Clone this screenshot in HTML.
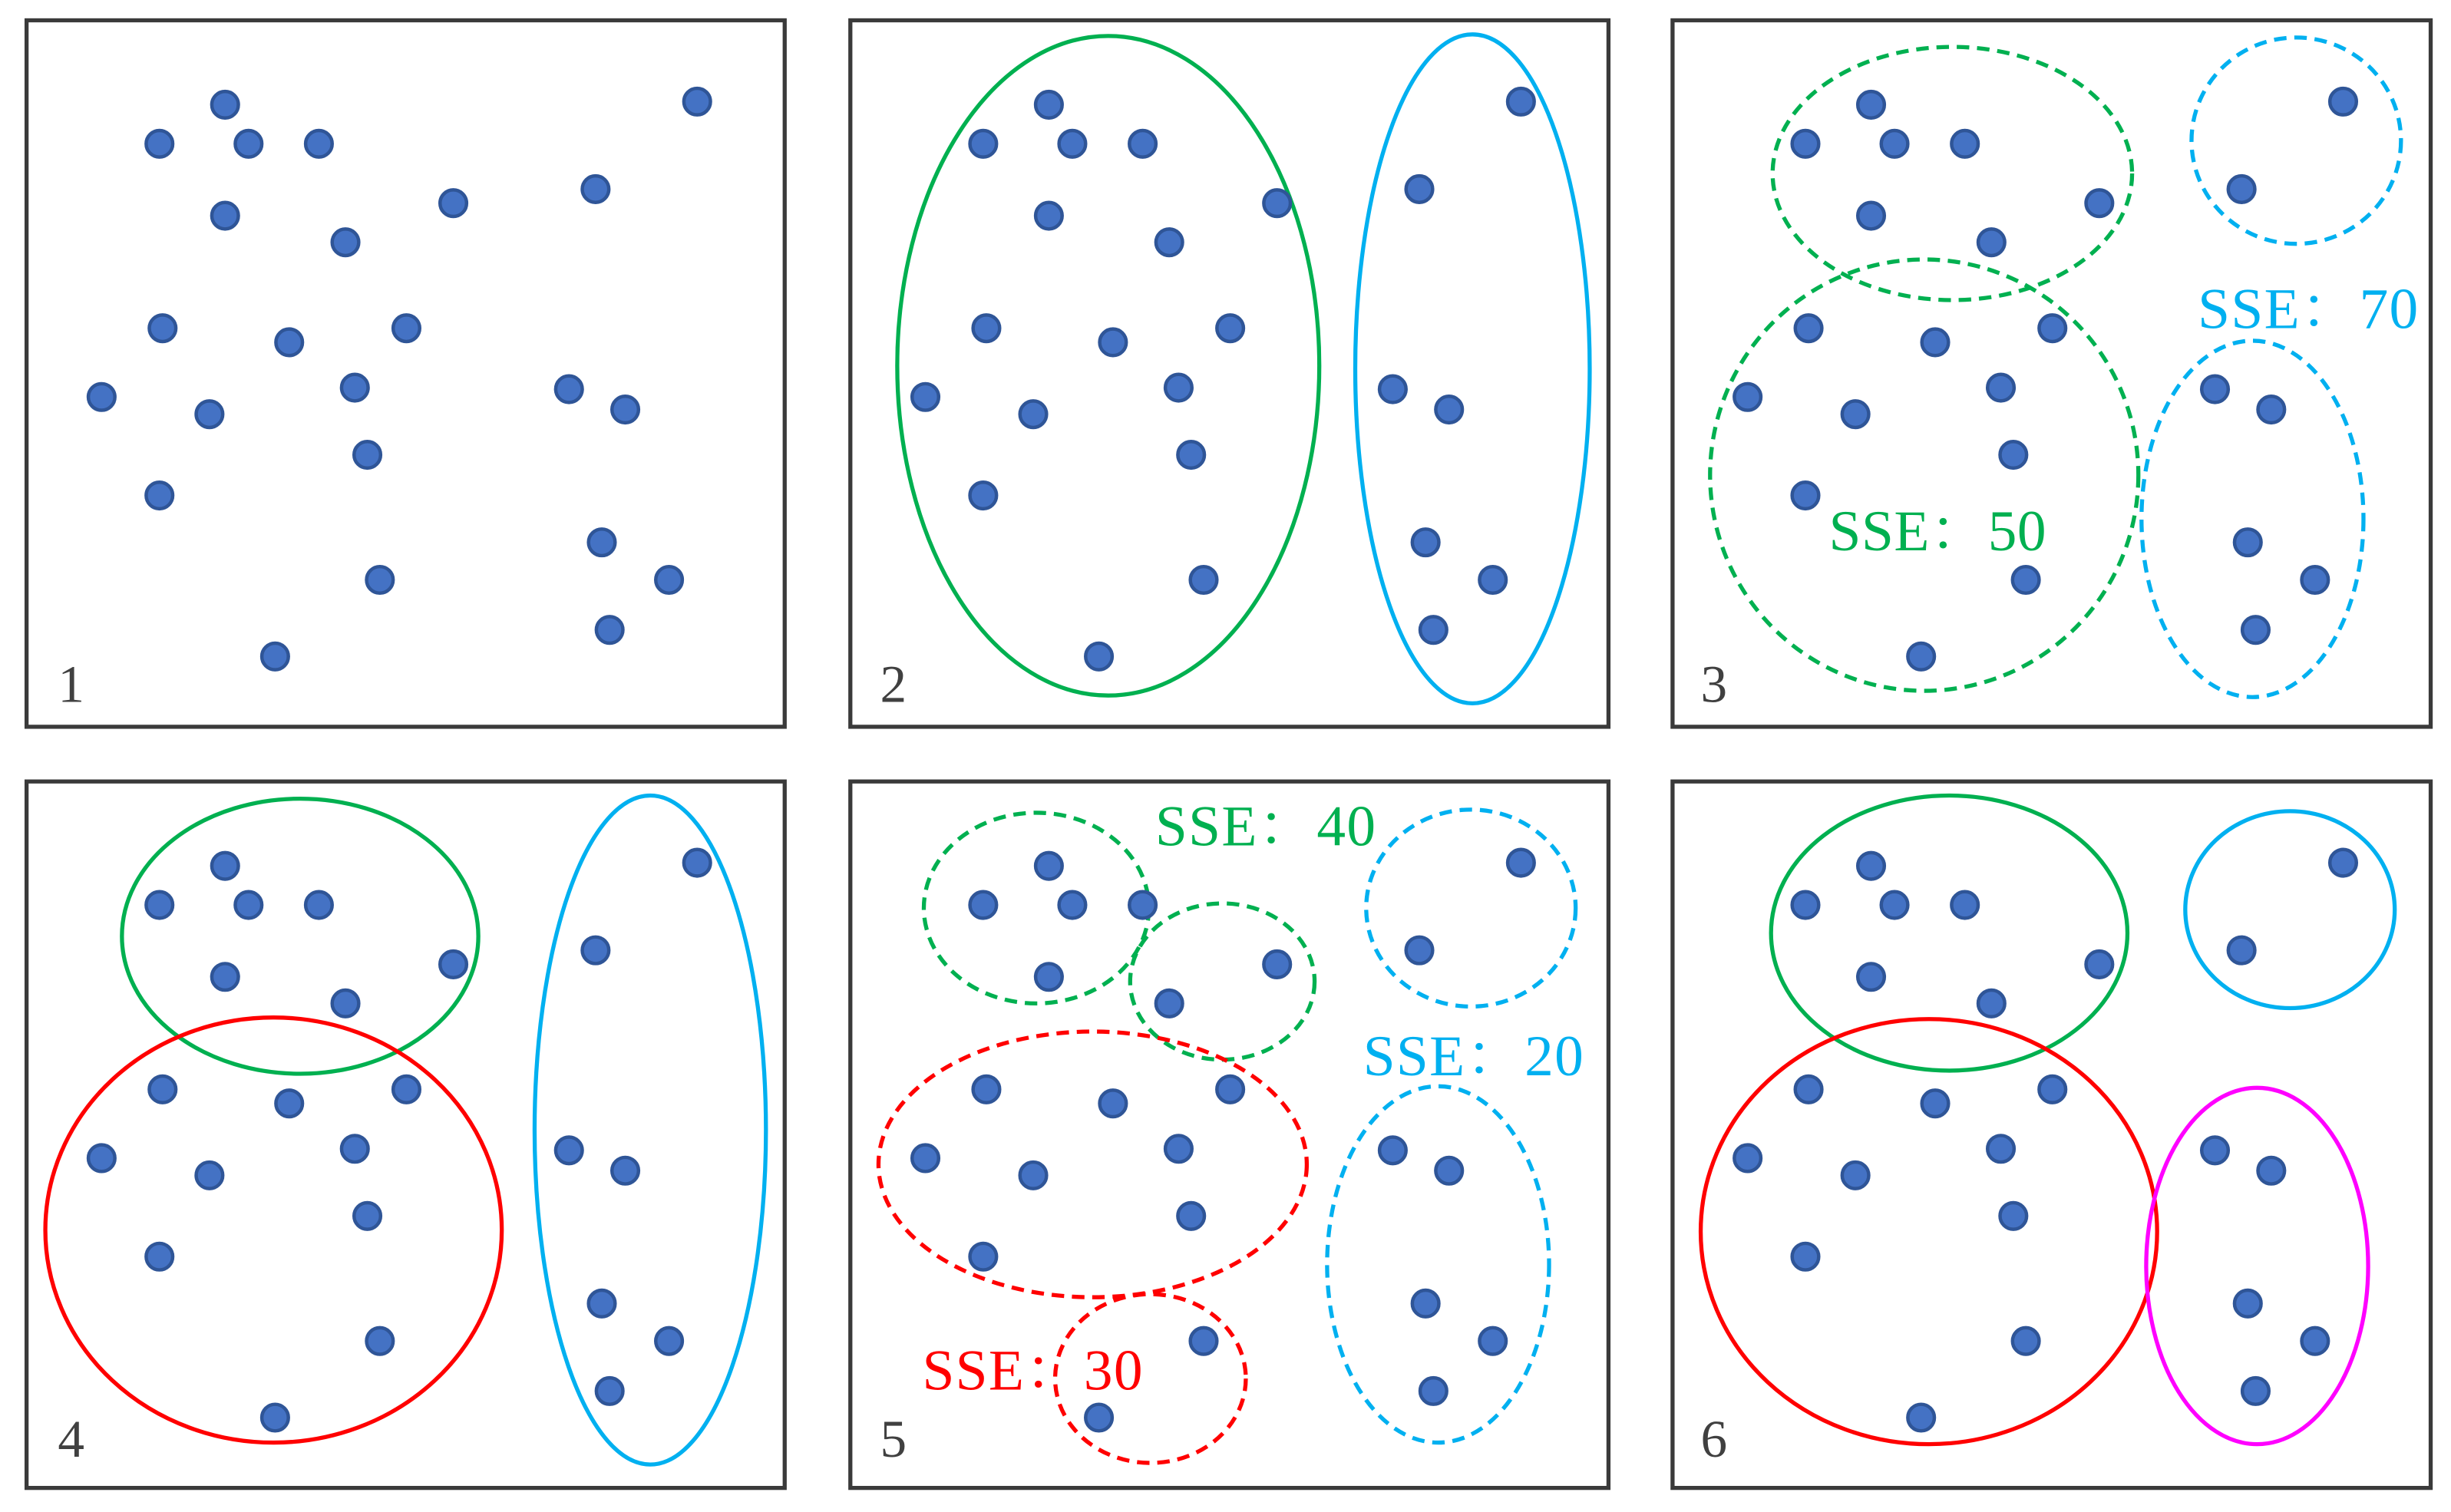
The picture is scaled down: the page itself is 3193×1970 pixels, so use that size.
<!DOCTYPE html>
<html><head><meta charset="utf-8"><style>html,body{margin:0;padding:0;background:#fff}svg{display:block}</style></head>
<body>
<svg width="3193" height="1970" viewBox="0 0 1568 967.4" preserveAspectRatio="none" xmlns="http://www.w3.org/2000/svg">
<defs>
<g id="dots" fill="#4472c4" stroke="#2f5597" stroke-width="2.2">
<circle cx="144" cy="67" r="8.5"/><circle cx="446" cy="65" r="8.5"/><circle cx="102" cy="92" r="8.5"/><circle cx="159" cy="92" r="8.5"/><circle cx="204" cy="92" r="8.5"/><circle cx="381" cy="121" r="8.5"/><circle cx="290" cy="130" r="8.5"/><circle cx="144" cy="138" r="8.5"/><circle cx="221" cy="155" r="8.5"/><circle cx="104" cy="210" r="8.5"/><circle cx="185" cy="219" r="8.5"/><circle cx="260" cy="210" r="8.5"/><circle cx="227" cy="248" r="8.5"/><circle cx="65" cy="254" r="8.5"/><circle cx="134" cy="265" r="8.5"/><circle cx="364" cy="249" r="8.5"/><circle cx="400" cy="262" r="8.5"/><circle cx="235" cy="291" r="8.5"/><circle cx="102" cy="317" r="8.5"/><circle cx="385" cy="347" r="8.5"/><circle cx="243" cy="371" r="8.5"/><circle cx="428" cy="371" r="8.5"/><circle cx="390" cy="403" r="8.5"/><circle cx="176" cy="420" r="8.5"/>
</g>
<rect id="box" x="17" y="13" width="485" height="452" fill="none" stroke="#3a3a3a" stroke-width="2.6"/>
</defs>
<g>
<use href="#box"/><use href="#box" x="527"/><use href="#box" x="1053"/>
<use href="#box" y="487"/><use href="#box" x="527" y="487"/><use href="#box" x="1053" y="487"/>
</g>
<g fill="none" stroke-width="2.6">
<ellipse cx="709" cy="234" rx="135" ry="211" stroke="#00b050"/>
<ellipse cx="942" cy="236" rx="75" ry="214" stroke="#00b0f0"/>
<g stroke-dasharray="8,5">
<ellipse cx="1249" cy="111" rx="115" ry="81" stroke="#00b050"/>
<ellipse cx="1469" cy="90" rx="67" ry="66" stroke="#00b0f0"/>
<ellipse cx="1231" cy="304" rx="137" ry="138" stroke="#00b050"/>
<ellipse cx="1441" cy="332" rx="71" ry="114" stroke="#00b0f0"/>
<ellipse cx="663" cy="581" rx="72" ry="61" stroke="#00b050"/>
<ellipse cx="782" cy="628" rx="59" ry="50" stroke="#00b050"/>
<ellipse cx="941" cy="581" rx="67" ry="63" stroke="#00b0f0"/>
<ellipse cx="699" cy="745" rx="137" ry="85" stroke="#ff0000"/>
<ellipse cx="736" cy="882" rx="61" ry="54" stroke="#ff0000"/>
<ellipse cx="920" cy="809" rx="71" ry="114" stroke="#00b0f0"/>
</g>
<ellipse cx="192" cy="599" rx="114" ry="88" stroke="#00b050"/>
<ellipse cx="175" cy="787" rx="146" ry="136" stroke="#ff0000"/>
<ellipse cx="416" cy="723" rx="74" ry="214" stroke="#00b0f0"/>
<ellipse cx="1247" cy="597" rx="114" ry="88" stroke="#00b050"/>
<ellipse cx="1465" cy="582" rx="67" ry="63" stroke="#00b0f0"/>
<ellipse cx="1234" cy="788" rx="146" ry="136" stroke="#ff0000"/>
<ellipse cx="1444" cy="810" rx="71" ry="114" stroke="#ff00ff"/>
</g>
<use href="#dots"/><use href="#dots" x="527"/><use href="#dots" x="1053"/>
<use href="#dots" y="487"/><use href="#dots" x="527" y="487"/><use href="#dots" x="1053" y="487"/>
<g font-family="Liberation Serif, Noto Serif CJK SC, serif" font-size="37">
<g fill="#404040" font-size="34">
<text x="37" y="449">1</text><text x="563" y="449">2</text><text x="1088" y="449">3</text>
<text x="37" y="932">4</text><text x="563" y="932">5</text><text x="1088" y="932">6</text>
</g>
<text x="1170" y="352" fill="#00b050" textLength="139" lengthAdjust="spacing">SSE：50</text>
<text x="1406" y="210" fill="#00b0f0" textLength="141" lengthAdjust="spacing">SSE：70</text>
<text x="739" y="541" fill="#00b050" textLength="141" lengthAdjust="spacing">SSE：40</text>
<text x="872" y="688" fill="#00b0f0" textLength="141" lengthAdjust="spacing">SSE：20</text>
<text x="590" y="889" fill="#ff0000" textLength="141" lengthAdjust="spacing">SSE：30</text>
</g>
</svg>
</body></html>
